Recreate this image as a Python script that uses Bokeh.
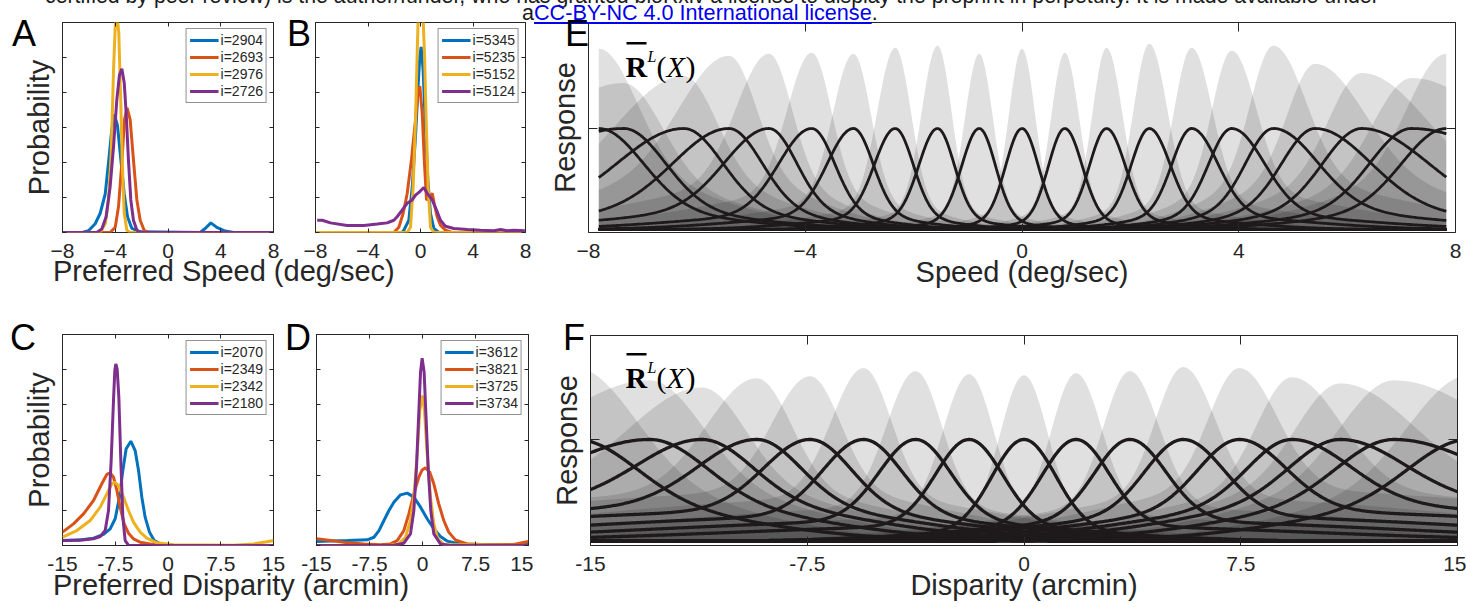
import numpy as np
from bokeh.plotting import figure
from bokeh.models import (Range1d, LinearAxis, FixedTicker, Label, BoxAnnotation,
                          Legend, LegendItem, Div)
from bokeh.layouts import row, column
from bokeh.embed import file_html
from bokeh.resources import INLINE

FONT = "Liberation Sans"
SERIF = "Liberation Serif"
AXC = "#262626"
COLORS = ["#0072BD", "#D95319", "#EDB120", "#7E2F8E"]
CURVE = "#1e1a1b"

# ---------------- data: panels A-D (probability curves) ----------------
A_LABELS = ["i=2904", "i=2693", "i=2976", "i=2726"]
A_X = [
    [-8, -6.5, -6.03, -5.52, -5.14, -4.76, -4.51, -4.26, -4.06, -3.83, -3.58, -3.32, -3.07, -2.74, -2.1, 2.44, 2.82, 3.25, 3.7, 4.34, 4.97, 8],
    [-8, -4.39, -4.0, -3.75, -3.5, -3.3, -3.1, -2.87, -2.62, -2.36, -2.11, -1.81, -1.48, 8],
    [-8, -5.14, -4.76, -4.51, -4.31, -4.13, -4.0, -3.88, -3.73, -3.58, -3.45, -3.32, -3.12, -2.87, 8],
    [-8, -5.4, -5.02, -4.69, -4.39, -4.13, -3.88, -3.68, -3.5, -3.32, -3.17, -3.0, -2.82, -2.62, -2.36, -2.1, 8],
]
A_Y = [
    [0, 0, 0.01, 0.05, 0.11, 0.22, 0.40, 0.59, 0.674, 0.61, 0.42, 0.22, 0.09, 0.023, 0.004, 0, 0.023, 0.055, 0.029, 0.008, 0, 0],
    [0, 0, 0.03, 0.15, 0.40, 0.645, 0.712, 0.645, 0.415, 0.186, 0.07, 0.013, 0, 0],
    [0, 0, 0.05, 0.19, 0.45, 0.93, 1.18, 1.25, 1.14, 0.74, 0.36, 0.11, 0.013, 0, 0],
    [0, 0, 0.02, 0.09, 0.26, 0.49, 0.76, 0.90, 0.936, 0.856, 0.68, 0.415, 0.186, 0.07, 0.013, 0, 0],
]

B_LABELS = ["i=5345", "i=5235", "i=5152", "i=5124"]
B_X = [
    [-8, -1.4, -1.27, -0.89, -0.63, -0.38, -0.18, -0.05, 0.05, 0.2, 0.38, 0.56, 0.76, 1.02, 1.4, 8],
    [-8, -2.03, -1.65, -1.32, -1.02, -0.69, -0.38, -0.18, -0.05, 0.13, 0.3, 0.46, 0.64, 0.89, 1.07, 1.27, 1.52, 1.9, 2.41, 8],
    [-8, -1.02, -0.76, -0.56, -0.38, -0.25, -0.18, 0.0, 0.2, 0.3, 0.43, 0.58, 0.76, 1.02, 8],
    [-7.87, -7.49, -6.86, -5.59, -4.32, -3.3, -2.54, -2.03, -1.78, -1.4, -1.02, -0.63, -0.38, -0.05, 0.25, 0.51, 0.89, 1.22, 1.52, 1.9, 2.54, 3.56, 4.57, 5.59, 6.1, 6.6, 7.11, 7.95],
]
B_Y = [
    [0, 0, 0.013, 0.07, 0.26, 0.55, 0.84, 1.01, 1.06, 0.93, 0.59, 0.30, 0.11, 0.023, 0, 0],
    [0, 0, 0.03, 0.11, 0.22, 0.415, 0.645, 0.808, 0.836, 0.683, 0.396, 0.186, 0.195, 0.224, 0.157, 0.09, 0.042, 0.013, 0, 0],
    [0, 0, 0.03, 0.26, 0.645, 1.03, 1.22, 1.33, 1.22, 1.03, 0.645, 0.26, 0.03, 0, 0],
    [0.07, 0.07, 0.055, 0.04, 0.04, 0.048, 0.055, 0.07, 0.09, 0.128, 0.167, 0.186, 0.214, 0.234, 0.257, 0.224, 0.186, 0.128, 0.07, 0.036, 0.023, 0.017, 0.013, 0.01, 0.017, 0.01, 0.013, 0.01],
]

C_LABELS = ["i=2070", "i=2349", "i=2342", "i=2180"]
C_X = [
    [-15, -12.49, -10.59, -9.17, -8.22, -7.51, -6.9, -6.42, -5.95, -5.28, -4.67, -4.19, -3.72, -3.25, -2.63, -1.97, -1.11, 0.31, 15],
    [-15, -13.44, -12.01, -10.59, -9.41, -8.7, -8.22, -7.75, -7.27, -6.8, -6.23, -5.62, -4.91, -3.96, -2.54, -0.17, 15],
    [-15, -12.96, -11.07, -9.64, -8.7, -7.99, -7.61, -7.04, -6.33, -5.62, -4.91, -3.96, -3.01, -1.59, 0.78, 9.31, 12.16, 14.05, 15],
    [-15, -12.49, -10.59, -9.64, -8.93, -8.46, -8.08, -7.75, -7.56, -7.42, -7.23, -6.99, -6.71, -6.42, -6.09, -5.62, 15],
]
C_Y = [
    [0.028, 0.032, 0.042, 0.063, 0.095, 0.152, 0.275, 0.427, 0.55, 0.593, 0.54, 0.427, 0.275, 0.161, 0.076, 0.028, 0.009, 0.002, 0],
    [0.076, 0.123, 0.18, 0.256, 0.351, 0.404, 0.413, 0.389, 0.313, 0.218, 0.123, 0.07, 0.038, 0.019, 0.008, 0.002, 0],
    [0.047, 0.085, 0.142, 0.218, 0.294, 0.351, 0.36, 0.341, 0.275, 0.199, 0.133, 0.076, 0.042, 0.015, 0.004, 0.002, 0.009, 0.021, 0.028],
    [0.028, 0.03, 0.038, 0.051, 0.085, 0.199, 0.483, 0.825, 0.996, 1.033, 1.005, 0.844, 0.483, 0.161, 0.028, 0.002, 0],
]

D_LABELS = ["i=3612", "i=3821", "i=3725", "i=3734"]
D_X = [
    [-15, -12.98, -10.63, -7.81, -6.87, -6.16, -5.46, -4.75, -4.05, -3.11, -2.16, -1.22, -0.28, 0.66, 1.6, 2.54, 3.48, 5.36, 8.18, 15],
    [-15, -12.98, -10.63, -8.28, -5.93, -4.52, -3.58, -2.64, -1.93, -1.22, -0.52, -0.05, 0.42, 1.03, 1.6, 2.3, 3.01, 3.71, 4.65, 6.3, 9.12, 12.88, 15],
    [-15, -4.52, -3.34, -2.4, -1.7, -1.22, -0.75, -0.38, -0.05, 0.28, 0.66, 1.13, 1.6, 2.16, 3.01, 15],
    [-15, -4.05, -2.64, -1.7, -1.22, -0.85, -0.57, -0.28, -0.05, 0.23, 0.52, 0.8, 1.17, 1.6, 2.54, 3.95, 15],
]
D_Y = [
    [0.023, 0.025, 0.028, 0.032, 0.047, 0.085, 0.142, 0.199, 0.246, 0.288, 0.298, 0.275, 0.218, 0.152, 0.095, 0.051, 0.025, 0.009, 0.006, 0.006],
    [0.038, 0.028, 0.015, 0.008, 0.004, 0.009, 0.028, 0.085, 0.18, 0.294, 0.389, 0.43, 0.442, 0.417, 0.351, 0.237, 0.142, 0.076, 0.032, 0.009, 0.004, 0.006, 0.023],
    [0, 0.002, 0.009, 0.047, 0.142, 0.275, 0.521, 0.768, 0.853, 0.768, 0.521, 0.275, 0.123, 0.038, 0.006, 0],
    [0, 0.002, 0.013, 0.066, 0.199, 0.446, 0.712, 0.986, 1.065, 0.986, 0.712, 0.446, 0.199, 0.066, 0.009, 0, 0],
]

SPEED_TICKS = [-8, -4, 0, 4, 8]
DISP_TICKS = [-15, -7.5, 0, 7.5, 15]
DISP_TICK_LABELS = {-15: "-15", -7.5: "-7.5", 0: "0", 7.5: "7.5", 15: "15"}
PROB_TICKS = [0, 0.2, 0.4, 0.6, 0.8, 1.0, 1.2]

# ---------------- data: panels E, F (tuning curves) ----------------
# centre, core width (inner / outer side), tail weight, tail width (inner / outer)
E_C = [-7.81, -7.35, -6.24, -5.41, -4.67, -3.88, -3.11, -2.34, -1.56, -0.79, 0.0, 0.79, 1.56, 2.35, 3.13, 3.87, 4.64, 5.41, 6.27, 7.19, 7.83]
E_SIN = [0.8, 0.75, 0.7, 0.6, 0.5, 0.42, 0.36, 0.33, 0.31, 0.30, 0.30, 0.30, 0.31, 0.33, 0.36, 0.42, 0.5, 0.6, 0.7, 0.75, 0.8]
E_SOUT = [2.0, 1.8, 1.2, 1.0, 0.8, 0.6, 0.48, 0.38, 0.34, 0.32, 0.30, 0.32, 0.34, 0.38, 0.48, 0.6, 0.8, 1.0, 1.2, 1.8, 2.0]
E_W = [0.2, 0.2, 0.2, 0.2, 0.2, 0.15, 0.14, 0.12, 0.1, 0.08, 0.08, 0.08, 0.1, 0.12, 0.14, 0.15, 0.2, 0.2, 0.2, 0.2, 0.2]
E_TIN = [2.0, 2.0, 1.8, 1.5, 1.3, 1.2, 1.1, 1.0, 1.0, 0.9, 0.9, 0.9, 1.0, 1.0, 1.1, 1.2, 1.3, 1.5, 1.8, 2.0, 2.0]
E_TOUT = [3.5, 3.5, 3.0, 2.8, 2.5, 2.2, 1.9, 1.5, 1.2, 1.0, 0.9, 1.0, 1.2, 1.5, 1.9, 2.2, 2.5, 2.8, 3.0, 3.5, 3.5]
E_GA = [1.79, 1.45, 1.52, 1.72, 1.74, 1.75, 1.74, 1.80, 1.82, 1.74, 1.79, 1.75, 1.80, 1.84, 1.80, 1.77, 1.82, 1.64, 1.55, 1.50, 1.74]
E_GSIN = [0.7, 0.7, 0.6, 0.5, 0.42, 0.36, 0.32, 0.29, 0.26, 0.25, 0.24, 0.25, 0.26, 0.29, 0.32, 0.36, 0.42, 0.5, 0.6, 0.7, 0.7]
E_GSOUT = [2.0, 1.6, 1.2, 0.9, 0.6, 0.45, 0.38, 0.33, 0.29, 0.26, 0.24, 0.26, 0.29, 0.33, 0.38, 0.45, 0.6, 0.9, 1.2, 1.6, 2.0]
E_GW = [0.3, 0.3, 0.3, 0.3, 0.25, 0.2, 0.15, 0.12, 0.1, 0.1, 0.1, 0.1, 0.1, 0.12, 0.15, 0.2, 0.25, 0.3, 0.3, 0.3, 0.3]

F_C = [-15.5, -12.95, -11.15, -9.25, -7.4, -5.55, -3.75, -1.9, 0.0, 1.8, 3.66, 5.51, 7.45, 9.27, 10.95, 12.8, 15.4]
F_SIN = [2.0, 1.9, 1.7, 1.5, 1.4, 1.3, 1.2, 1.15, 1.1, 1.15, 1.2, 1.3, 1.4, 1.5, 1.7, 1.9, 2.0]
F_SOUT = [3.5, 3.0, 2.2, 2.0, 1.6, 1.4, 1.25, 1.15, 1.1, 1.15, 1.25, 1.4, 1.6, 2.0, 2.2, 3.0, 3.5]
F_W = [0.4, 0.4, 0.4, 0.35, 0.3, 0.25, 0.2, 0.15, 0.1, 0.15, 0.2, 0.25, 0.3, 0.35, 0.4, 0.4, 0.4]
F_TIN = [5, 5, 5, 5, 5, 5, 5, 4, 4, 4, 5, 5, 5, 5, 5, 5, 5]
F_TOUT = [12, 12, 12, 12, 12, 10, 9, 8, 7, 8, 9, 10, 12, 12, 12, 12, 12]
F_GA = [1.70, 1.58, 1.51, 1.60, 1.62, 1.70, 1.67, 1.64, 1.63, 1.65, 1.67, 1.71, 1.70, 1.61, 1.55, 1.58, 1.63]
F_GSIN = [2.0, 1.8, 1.5, 1.2, 1.05, 0.95, 0.9, 0.85, 0.82, 0.85, 0.9, 0.95, 1.05, 1.2, 1.5, 1.8, 2.0]
F_GSOUT = [4.0, 3.5, 2.5, 1.7, 1.3, 1.1, 1.0, 0.9, 0.82, 0.9, 1.0, 1.1, 1.3, 1.7, 2.5, 3.5, 4.0]
F_GW = [0.35, 0.35, 0.35, 0.3, 0.3, 0.25, 0.2, 0.15, 0.12, 0.15, 0.2, 0.25, 0.3, 0.3, 0.35, 0.35, 0.35]

HEADER_1 = ("certified by peer review) is the author/funder, who has granted bioRxiv a license "
            "to display the preprint in perpetuity. It is made available under")
HEADER_2A = "a"
HEADER_LINK = "CC-BY-NC 4.0 International license"
HEADER_2B = "."


def tuning(x, c, s_in, s_out, w, t_in, t_out):
    d = x - c
    outer = (d * c) > 0
    s = np.where(outer, s_out, s_in)
    t = np.where(outer, t_out, t_in)
    return (1 - w) * np.exp(-d ** 2 / (2 * s ** 2)) + w * np.exp(-d ** 2 / (2 * t ** 2))


def style_axis(ax, ticks, show_labels, tick_len, overrides=None):
    ax.ticker = FixedTicker(ticks=ticks)
    ax.axis_line_color = None
    ax.major_tick_in = tick_len
    ax.major_tick_out = 0
    ax.major_tick_line_color = AXC
    ax.minor_tick_line_color = None
    ax.major_label_text_font = FONT
    if show_labels:
        ax.major_label_text_font_size = "21px"
        ax.major_label_text_color = AXC
        ax.major_label_standoff = 11
    else:
        ax.major_label_text_font_size = "0px"
        ax.major_label_text_color = None
        ax.major_label_standoff = 0
    if overrides:
        ax.major_label_overrides = overrides
    ax.axis_label_text_font = FONT
    ax.axis_label_text_font_style = "normal"
    ax.axis_label_text_font_size = "29px"
    ax.axis_label_text_color = AXC


def base_fig(xr, yr, fw, fh, bl, br, bt, bb):
    p = figure(frame_width=fw, frame_height=fh, x_range=Range1d(*xr), y_range=Range1d(*yr),
               output_backend="svg", toolbar_location=None,
               min_border_left=bl, min_border_right=br, min_border_top=bt, min_border_bottom=bb)
    p.xgrid.visible = False
    p.ygrid.visible = False
    p.outline_line_color = AXC
    p.outline_line_width = 1
    p.background_fill_color = "white"
    p.border_fill_color = "white"
    return p


def add_text(p, text, x, y, size, font=FONT, style="normal", color="black", align="left"):
    p.add_layout(Label(x=x, y=y, x_units="screen", y_units="screen", text=text,
                       text_font=font, text_font_size=size, text_font_style=style,
                       text_color=color, text_align=align, text_baseline="alphabetic"))


def small_panel(xs, ys, labels, xr, xticks, fw, fh, bl, br, bt, bb, ylabel=None, overrides=None):
    p = base_fig(xr, (0, 1.2), fw, fh, bl, br, bt, bb)
    xax = p.xaxis[0]
    yax = p.yaxis[0]
    style_axis(xax, xticks, True, 4, overrides)
    style_axis(yax, PROB_TICKS, False, 4)
    if ylabel:
        yax.axis_label = ylabel
        yax.axis_label_standoff = 8
    top = LinearAxis()
    style_axis(top, xticks, False, 4)
    p.add_layout(top, "above")
    right = LinearAxis()
    style_axis(right, PROB_TICKS, False, 4)
    p.add_layout(right, "right")
    items = []
    for x, y, lab, col in zip(xs, ys, labels, COLORS):
        r = p.line(x, y, line_color=col, line_width=3)
        items.append(LegendItem(label=lab, renderers=[r]))
    leg = Legend(items=items, location="top_right", margin=6, padding=3, spacing=1,
                 label_text_font=FONT, label_text_font_size="14px", label_text_color=AXC,
                 glyph_width=29, glyph_height=16, label_height=16, label_standoff=2,
                 border_line_color=AXC, border_line_width=1, background_fill_alpha=1)
    p.add_layout(leg)
    return p


def tuning_panel(xgrid, xr, yr, xticks, fw, fh, bl, br, bt, bb, C, SIN, SOUT, W, TIN, TOUT,
                 GA, GSIN, GSOUT, GW, xlabel, overrides=None, lw=2.8):
    p = base_fig(xr, yr, fw, fh, bl, br, bt, bb)
    xax = p.xaxis[0]
    yax = p.yaxis[0]
    style_axis(xax, xticks, True, 9, overrides)
    xax.axis_label = xlabel
    xax.axis_label_standoff = -5
    style_axis(yax, [1], False, 9)
    yax.axis_label = "Response"
    yax.axis_label_standoff = 8
    top = LinearAxis()
    style_axis(top, xticks, False, 9)
    p.add_layout(top, "above")
    right = LinearAxis()
    style_axis(right, [1], False, 9)
    p.add_layout(right, "right")
    for i in range(len(C)):
        g = GA[i] * tuning(xgrid, C[i], GSIN[i], GSOUT[i], GW[i], TIN[i], TOUT[i])
        p.varea(x=xgrid, y1=np.zeros_like(xgrid), y2=g, fill_color="black", fill_alpha=0.12)
    for i in range(len(C)):
        r = tuning(xgrid, C[i], SIN[i], SOUT[i], W[i], TIN[i], TOUT[i])
        p.line(xgrid, r, line_color=CURVE, line_width=lw)
    return p


def rbar_label(p, x0, yb):
    p.add_layout(BoxAnnotation(left=x0 + 1, right=x0 + 21, bottom=yb + 22, top=yb + 24.5,
                               left_units="screen", right_units="screen",
                               top_units="screen", bottom_units="screen",
                               fill_color="black", fill_alpha=1, line_color=None))
    add_text(p, "R", x0, yb, "30px", font=SERIF, style="bold")
    add_text(p, "L", x0 + 22, yb + 10, "16px", font=SERIF, style="italic")
    add_text(p, "(", x0 + 31, yb, "30px", font=SERIF)
    add_text(p, "X", x0 + 41, yb, "30px", font=SERIF, style="italic")
    add_text(p, ")", x0 + 60, yb, "30px", font=SERIF)


# ---------------- top row (page origin at 0,0) ----------------
pA = small_panel(A_X, A_Y, A_LABELS, (-8, 8), SPEED_TICKS, 211, 210, 62, 12, 22, 35,
                 ylabel="Probability")
pB = small_panel(B_X, B_Y, B_LABELS, (-8, 8), SPEED_TICKS, 210, 210, 30, 8, 22, 35)

xE = np.linspace(-7.81, 7.83, 700)
pE = tuning_panel(xE, (-8, 8), (-0.03, 2.05), SPEED_TICKS, 867, 210, 55, 11, 22, 66,
                  E_C, E_SIN, E_SOUT, E_W, E_TIN, E_TOUT, E_GA, E_GSIN, E_GSOUT, E_GW,
                  "Speed (deg/sec)", lw=2.8)
rbar_label(pE, 37, 166)

DIVSTYLE = ("font-family:'Liberation Sans',Arial,sans-serif;font-size:29px;line-height:29px;"
            "color:#262626;text-align:center;padding-left:53px;white-space:nowrap;")
div_speed = Div(text=f'<div style="{DIVSTYLE}margin-top:-10px">Preferred Speed (deg/sec)</div>',
                width=533, height=31, margin=0)

# ---------------- bottom row ----------------
pC = small_panel(C_X, C_Y, C_LABELS, (-15, 15), DISP_TICKS, 211, 211, 62, 12, 36, 35,
                 ylabel="Probability", overrides=DISP_TICK_LABELS)
pD = small_panel(D_X, D_Y, D_LABELS, (-15, 15), DISP_TICKS, 212, 211, 31, 5, 36, 35,
                 overrides=DISP_TICK_LABELS)

xF = np.linspace(-15, 15, 700)
pF = tuning_panel(xF, (-15, 15), (-0.04, 2.02), DISP_TICKS, 867, 210, 57, 9, 37, 62,
                  F_C, F_SIN, F_SOUT, F_W, F_TIN, F_TOUT, F_GA, F_GSIN, F_GSOUT, F_GW,
                  "Disparity (arcmin)", overrides=DISP_TICK_LABELS, lw=3.3)
rbar_label(pF, 35, 168)

div_disp = Div(text=f'<div style="{DIVSTYLE}margin-top:-9px">Preferred Disparity (arcmin)</div>',
               width=533, height=27, margin=0)


# ---------------- overlay texts (panel letters, header) ----------------
OVL_DY = -13  # measured offset of the overlay box


def span(text, left, baseline, size, color="#000000", extra=""):
    top = baseline - 0.8465 * size + OVL_DY
    return (f'<span style="position:absolute;left:{left}px;top:{top:.1f}px;'
            f"font-family:'Liberation Sans',Arial,sans-serif;font-size:{size}px;"
            f'line-height:{size}px;color:{color};white-space:nowrap;{extra}">{text}</span>')


header2 = (f'{HEADER_2A}<span style="color:#0000ee;text-decoration:underline">{HEADER_LINK}</span>'
           f'{HEADER_2B}')
overlay_parts = [
    span(HEADER_1, 45, 5, 21.3, "#1a1a1a"),
    span(header2, 522, 21, 21.6, "#1a1a1a"),
    span("A", 12, 47, 36), span("B", 287, 47, 36), span("E", 565, 47, 36),
    span("C", 10, 351, 36), span("D", 285, 351, 36), span("F", 563, 351, 36),
]
overlay = Div(text='<div style="position:relative;width:0;height:0;overflow:visible;z-index:50">'
                   + "".join(overlay_parts) + "</div>",
              width=1466, height=0, margin=0,
              styles={"overflow": "visible", "position": "relative", "z-index": "50"})

top_left = column(row(pA, pB, spacing=0), div_speed, spacing=0)
bot_left = column(row(pC, pD, spacing=0), div_disp, spacing=0)
layout = column(overlay, row(top_left, pE, spacing=0), row(bot_left, pF, spacing=0), spacing=0)

open("out.html", "w").write(file_html(layout, INLINE))
